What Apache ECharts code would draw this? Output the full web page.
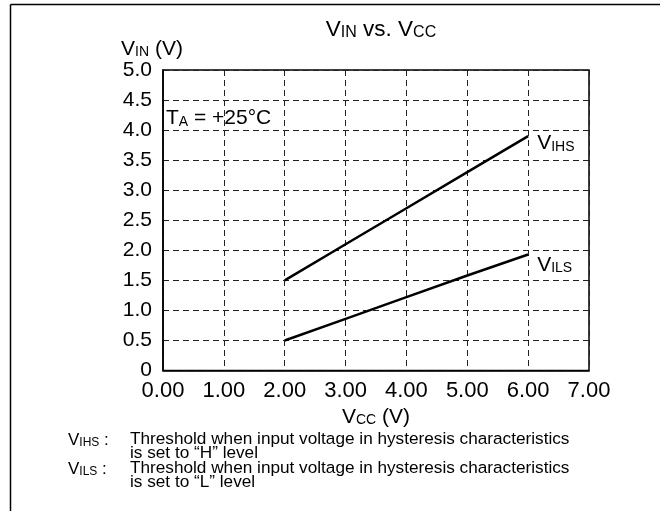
<!DOCTYPE html>
<html>
<head>
<meta charset="utf-8">
<script src="https://cdn.jsdelivr.net/npm/echarts@6/dist/echarts.min.js"></script>
<style>
  html, body { margin: 0; padding: 0; background: #ffffff; }
  #chart { width: 660px; height: 511px; }
</style>
</head>
<body>
<div id="chart"></div>
<script>
// Input threshold voltage vs. supply voltage, TA = +25°C
const vcc  = [2.0, 3.0, 4.0, 5.0, 6.0];
const vihs = [1.5, 2.1, 2.7, 3.3, 3.9];
const vils = [0.5, 0.86, 1.22, 1.58, 1.93];

const xTickLabels = ['0.00', '1.00', '2.00', '3.00', '4.00', '5.00', '6.00', '7.00'];
const yTickLabels = ['0', '0.5', '1.0', '1.5', '2.0', '2.5', '3.0', '3.5', '4.0', '4.5', '5.0'];

const FONT = '"Liberation Sans", Arial, Helvetica, sans-serif';

// Rich-text styles for a large letter followed by small-caps subscript letters,
// with the two sizes sharing one baseline.
function subRich(big, small, lh) {
  return {
    b: { fontFamily: FONT, fontWeight: 'normal', fontSize: big, lineHeight: lh, color: '#000', verticalAlign: 'bottom' },
    s: { fontFamily: FONT, fontWeight: 'normal', fontSize: small, lineHeight: lh - 0.7 * (big - small), color: '#000', verticalAlign: 'bottom' }
  };
}

const chart = echarts.init(document.getElementById('chart'), null, { renderer: 'canvas' });

const pair = (xs, ys) => xs.map((x, i) => [x, ys[i]]);

const option = {
  backgroundColor: '#ffffff',
  animation: false,
  title: {
    text: '{b|V}{s|IN}{b| vs. V}{s|CC}',
    left: 376,
    top: 10,
    textAlign: 'center',
    textStyle: { fontWeight: 'normal', rich: subRich(22.5, 16, 26) }
  },
  grid: {
    left: 163, right: 71, top: 70, bottom: 140.5,
    show: true, borderColor: '#000', borderWidth: 1.5, backgroundColor: 'transparent'
  },
  xAxis: {
    type: 'value',
    min: 0, max: 7, interval: 1,
    name: '{b|V}{s|CC}{b| (V)}',
    nameLocation: 'middle',
    nameGap: 26,
    nameTextStyle: { rich: subRich(21, 14, 24) },
    axisLine: { show: true, lineStyle: { color: '#000', width: 1.5 } },
    axisTick: { show: false },
    axisLabel: {
      color: '#000', fontFamily: FONT, fontSize: 22, margin: 9,
      formatter: v => xTickLabels[Math.round(v)]
    },
    splitLine: { show: true, lineStyle: { color: '#222', width: 1, type: [6, 4] } }
  },
  yAxis: {
    type: 'value',
    min: 0, max: 5, interval: 0.5,
    name: '{b|V}{s|IN}{b| (V)}',
    nameLocation: 'end',
    nameGap: 7,
    nameTextStyle: { align: 'center', padding: [0, 22, 0, 0], rich: subRich(21, 14, 24) },
    axisLine: { show: true, lineStyle: { color: '#000', width: 1.5 } },
    axisTick: { show: false },
    axisLabel: {
      color: '#000', fontFamily: FONT, fontSize: 21, margin: 11,
      formatter: v => yTickLabels[Math.round(v * 2)]
    },
    splitLine: { show: true, lineStyle: { color: '#222', width: 1, type: [6, 4] } }
  },
  series: [
    {
      name: 'VIHS', type: 'line', data: pair(vcc, vihs),
      symbol: 'none', lineStyle: { color: '#000', width: 2.5 },
      endLabel: { show: true, formatter: '{b|V}{s|IHS}', offset: [1, 6], rich: subRich(21, 14, 24) }
    },
    {
      name: 'VILS', type: 'line', data: pair(vcc, vils),
      symbol: 'none', lineStyle: { color: '#000', width: 2.5 },
      endLabel: { show: true, formatter: '{b|V}{s|ILS}', offset: [1, 9], rich: subRich(21, 14, 24) }
    }
  ],
  graphic: [
    // page frame
    { type: 'line', shape: { x1: 10.5, y1: 4.5, x2: 660, y2: 4.5 }, style: { stroke: '#000', lineWidth: 1.5 } },
    { type: 'line', shape: { x1: 10.5, y1: 4.5, x2: 10.5, y2: 511 }, style: { stroke: '#000', lineWidth: 1.5 } },
    // ambient temperature note
    {
      type: 'text', x: 166, y: 117,
      style: { text: '{b|T}{s|A}{b| = +25°C}', rich: subRich(21, 14, 24), verticalAlign: 'middle', align: 'left' }
    },
    // footnotes
    {
      type: 'text', x: 68, y: 439,
      style: { text: '{b|V}{s|IHS}{b| :}', rich: subRich(17, 12, 20), verticalAlign: 'middle', align: 'left' }
    },
    {
      type: 'text', x: 130, y: 439,
      style: { text: 'Threshold when input voltage in hysteresis characteristics', font: '17.2px ' + FONT, fill: '#000', verticalAlign: 'middle', align: 'left' }
    },
    {
      type: 'text', x: 130, y: 453.5,
      style: { text: 'is set to \u201CH\u201D level', font: '17.2px ' + FONT, fill: '#000', verticalAlign: 'middle', align: 'left' }
    },
    {
      type: 'text', x: 68, y: 468,
      style: { text: '{b|V}{s|ILS}{b| :}', rich: subRich(17, 12, 20), verticalAlign: 'middle', align: 'left' }
    },
    {
      type: 'text', x: 130, y: 468,
      style: { text: 'Threshold when input voltage in hysteresis characteristics', font: '17.2px ' + FONT, fill: '#000', verticalAlign: 'middle', align: 'left' }
    },
    {
      type: 'text', x: 130, y: 482.5,
      style: { text: 'is set to \u201CL\u201D level', font: '17.2px ' + FONT, fill: '#000', verticalAlign: 'middle', align: 'left' }
    }
  ]
};

chart.setOption(option);
</script>
</body>
</html>
